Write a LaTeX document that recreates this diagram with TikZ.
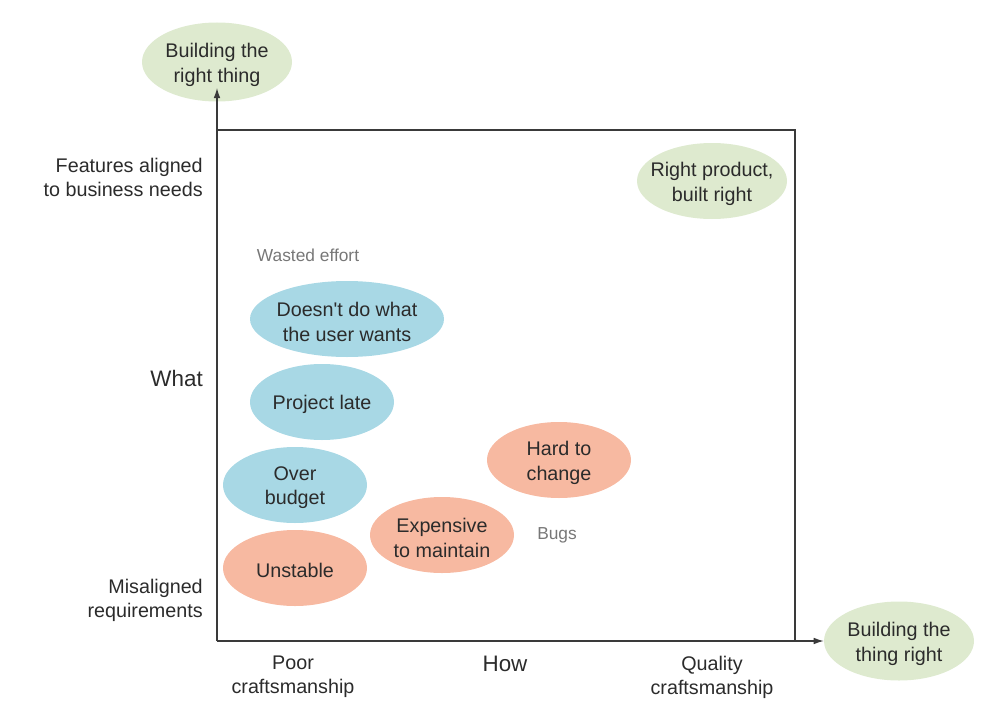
\documentclass[tikz,border=0pt]{standalone}
\usepackage{fontspec}
\setmainfont{Liberation Sans}
\usetikzlibrary{shapes.geometric,arrows.meta}
\definecolor{bblue}{HTML}{A8D8E5}
\definecolor{bsalmon}{HTML}{F7B9A1}
\definecolor{bgreen}{HTML}{DEEACF}
\definecolor{txt}{HTML}{2B2B2B}
\definecolor{gtxt}{HTML}{777777}
\definecolor{axis}{HTML}{3A3A3A}
\tikzset{
  x=0.75pt, y=-0.75pt,
  blob/.style={ellipse, inner sep=0pt},
  blueb/.style={blob, fill=bblue},
  salb/.style={blob, fill=bsalmon},
  greenb/.style={blob, fill=bgreen},
  etext/.style={align=center, text=txt, inner sep=0pt, yshift=-2pt,
    font=\fontsize{14.8}{18.5}\selectfont},
  lab/.style={text=txt, font=\fontsize{14.8}{18}\selectfont, inner sep=0pt},
  biglab/.style={text=txt, font=\fontsize{16.8}{18}\selectfont, inner sep=0pt},
  note/.style={text=gtxt, font=\fontsize{13}{15}\selectfont, inner sep=0pt},
  ax/.style={draw=axis, line width=0.9pt, -{Latex[length=7.5pt,width=5pt]}},
}
\begin{document}
\begin{tikzpicture}
\useasboundingbox (0,0) rectangle (981,717);
% frame
\coordinate (o) at (217,641);
\coordinate (tl) at (217,130);
\coordinate (tr) at (795,130);
\coordinate (br) at (795,641);
\draw[draw=axis, line width=0.9pt] (tl) -- (tr) -- (br);
% ellipses
\node[greenb, minimum width=150*0.75pt, minimum height=79*0.75pt] (what) at (217,62) {};
\node[etext] (whatt) at (what.center) {Building the\\right thing};
\node[greenb, minimum width=150*0.75pt, minimum height=79*0.75pt] (how) at (899,641) {};
\node[etext] (howt) at (how.center) {Building the\\thing right};
\node[greenb, minimum width=150*0.75pt, minimum height=76*0.75pt] (rp) at (712,181) {};
\node[etext] (rpt) at (rp.center) {Right product,\\built right};
\node[blueb, minimum width=194*0.75pt, minimum height=76*0.75pt] (dd) at (347,319) {};
\node[etext] (ddt) at (dd.center) {Doesn\textquotesingle t do what\\the user wants};
\node[blueb, minimum width=144*0.75pt, minimum height=76*0.75pt] (pl) at (322,402) {};
\node[etext] (plt) at (pl.center) {Project late};
\node[blueb, minimum width=144*0.75pt, minimum height=76*0.75pt] (ob) at (295,485) {};
\node[etext] (obt) at (ob.center) {Over\\budget};
\node[salb, minimum width=144*0.75pt, minimum height=76*0.75pt] (un) at (295,568) {};
\node[etext] (unt) at (un.center) {Unstable};
\node[salb, minimum width=144*0.75pt, minimum height=76*0.75pt] (em) at (442,535) {};
\node[etext] (emt) at (em.center) {Expensive\\to maintain};
\node[salb, minimum width=144*0.75pt, minimum height=76*0.75pt] (hc) at (559,460) {};
\node[etext] (hct) at (hc.center) {Hard to\\change};
% axes
\draw[ax] (o) -- (what.south |- 0,88);
\draw[ax] (o) -- (how.west);
% labels
\node[lab, align=right, anchor=east] (fa) at (203,177) {Features aligned\\to business needs};
\node[biglab, anchor=east] (wl) at (203,378) {What};
\node[lab, align=right, anchor=east] (mr) at (203,600) {Misaligned\\requirements};
\node[lab, align=center] (pc) at (293,677) {Poor\\craftsmanship};
\node[biglab] (hl) at (505,664) {How};
\node[lab, align=center] (qc) at (712,677) {Quality\\craftsmanship};
\node[note] (we) at (308,255) {Wasted effort};
\node[note] (bg) at (557,535) {Bugs};
\end{tikzpicture}
\end{document}
